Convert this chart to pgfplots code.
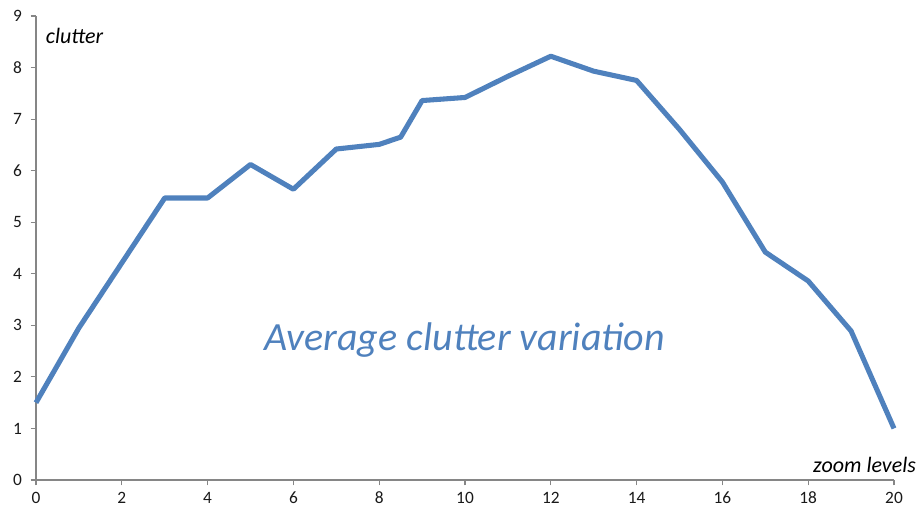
\documentclass[border=0pt]{standalone}
\usepackage{pgfplots}
\pgfplotsset{compat=1.18}
\usepackage{fontspec}
\setmainfont{Carlito}
\definecolor{lineblue}{HTML}{4F81BD}
\definecolor{axgray}{HTML}{868686}
\begin{document}
\begin{tikzpicture}
\useasboundingbox (-27pt,-21pt) rectangle (664.5pt,360pt);
\begin{axis}[
  at={(0,0)}, anchor=south west,
  scale only axis,
  width=643.5pt, height=348pt,
  xmin=0, xmax=20, ymin=0, ymax=9,
  axis lines=left,
  axis line style={-, axgray, line width=0.8pt},
  xtick={0,2,...,20}, ytick={0,1,...,9},
  tick align=outside,
  major tick length=4pt,
  tick style={axgray, line width=0.8pt},
  /pgf/number format/assume math mode=true,
  ticklabel style={font=\fontsize{13}{15}\selectfont, text=black!90},
  xticklabel style={yshift=-1.5pt},
  yticklabel style={xshift=-3pt},
  clip=false,
]
\addplot[lineblue, line width=3.8pt, line join=round] coordinates {
(0,1.50) (1,2.95) (2,4.21) (3,5.47) (4,5.47) (5,6.12) (6,5.64) (7,6.42)
(8,6.51) (8.5,6.65) (9,7.36) (10,7.42) (11,7.83) (12,8.22) (13,7.93)
(14,7.75) (15,6.80) (16,5.78) (17,4.42) (18,3.86) (19,2.89) (20,1.00)
};
\node[anchor=west, font=\fontsize{16.5}{19}\selectfont\itshape] at (axis cs:0.12,8.62) {clutter};
\node[anchor=east, font=\fontsize{16.5}{19}\selectfont\itshape] at (axis cs:20.62,0.29) {zoom levels};
\node[font=\fontsize{30}{34}\selectfont\itshape, text=lineblue] at (axis cs:10.0,2.71) {Average clutter variation};
\end{axis}
\end{tikzpicture}
\end{document}
